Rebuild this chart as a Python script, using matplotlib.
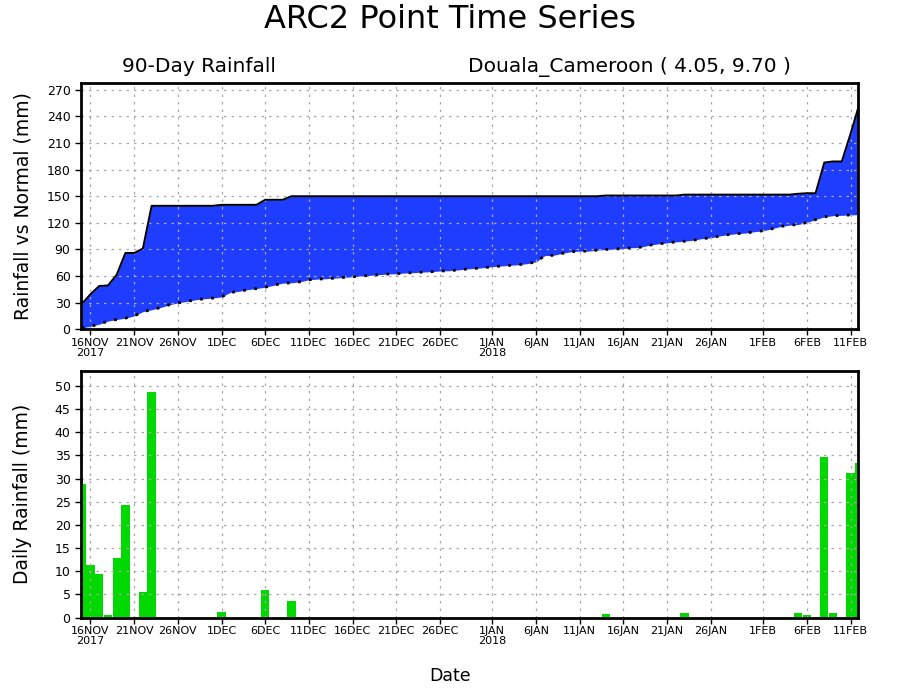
import matplotlib
matplotlib.use("Agg")
import matplotlib.pyplot as plt
import numpy as np
import pandas as pd

# 90 days, 15 Nov 2017 .. 12 Feb 2018
start_date = "2017-11-15"
n_days = 90

# daily rainfall (mm)
daily_rain = [28.8, 11.4, 9.4, 0.6, 12.9, 24.3, 0.0, 5.6, 48.6, 0.0,
              0.0, 0.0, 0.0, 0.0, 0.0, 0.0, 1.2, 0.0, 0.0, 0.0,
              0.0, 6.0, 0.0, 0.0, 3.6, 0.0, 0.0, 0.0, 0.0, 0.0,
              0.0, 0.0, 0.0, 0.0, 0.0, 0.0, 0.0, 0.0, 0.0, 0.0,
              0.0, 0.0, 0.0, 0.0, 0.0, 0.0, 0.0, 0.0, 0.0, 0.0,
              0.0, 0.0, 0.0, 0.0, 0.0, 0.0, 0.0, 0.0, 0.0, 0.0,
              0.8, 0.0, 0.0, 0.0, 0.0, 0.0, 0.0, 0.0, 0.0, 1.0,
              0.0, 0.0, 0.0, 0.0, 0.0, 0.0, 0.0, 0.0, 0.0, 0.0,
              0.0, 0.0, 1.0, 0.6, 0.0, 34.6, 1.0, 0.0, 31.2, 33.3]

# accumulated rainfall (mm), upper edge of the blue area
accum_rain = [28.5, 39.5, 48.8, 49.4, 61.5, 86.0, 86.0, 91.0, 139.2, 139.2,
              139.2, 139.2, 139.2, 139.2, 139.2, 139.2, 140.3, 140.3, 140.3, 140.3,
              140.3, 146.0, 146.0, 146.0, 150.0, 150.0, 150.0, 150.0, 150.0, 150.0,
              150.0, 150.0, 150.0, 150.0, 150.0, 150.0, 150.0, 150.0, 150.0, 150.0,
              150.0, 150.0, 150.0, 150.0, 150.0, 150.0, 150.0, 150.0, 150.0, 150.0,
              150.0, 150.0, 150.0, 150.0, 150.0, 150.0, 150.0, 150.0, 150.0, 150.0,
              150.8, 150.8, 150.8, 150.8, 150.8, 150.8, 150.8, 150.8, 150.8, 151.8,
              151.8, 151.8, 151.8, 151.8, 151.8, 151.8, 151.8, 151.8, 151.8, 151.8,
              151.8, 151.8, 152.8, 153.4, 153.4, 188.0, 189.2, 189.2, 220.3, 253.6]

# accumulated normal (mm), dotted lower edge
accum_normal = [1.5, 3.4, 5.7, 9.2, 11.0, 12.6, 15.0, 19.9, 22.0, 24.5,
                27.5, 29.8, 31.3, 33.2, 34.4, 35.2, 36.5, 41.5, 42.8, 44.7,
                45.9, 47.4, 49.7, 52.0, 52.4, 53.6, 55.8, 56.6, 57.0, 57.7,
                58.5, 59.2, 60.0, 60.8, 61.5, 62.3, 62.6, 63.4, 63.8, 64.5,
                64.9, 65.7, 66.0, 66.8, 67.9, 68.7, 69.4, 70.6, 71.3, 72.1,
                72.8, 74.0, 76.0, 83.0, 83.4, 85.6, 87.4, 88.1, 88.1, 89.3,
                90.0, 90.4, 91.1, 91.9, 92.6, 94.8, 96.3, 97.4, 98.5, 99.3,
                100.4, 102.2, 103.0, 105.2, 106.7, 107.8, 108.5, 110.0, 111.1, 113.3,
                115.9, 117.4, 118.1, 120.4, 123.7, 126.7, 128.1, 128.5, 128.9, 129.3]

tick_dates = ["2017-11-16", "2017-11-21", "2017-11-26", "2017-12-01", "2017-12-06",
              "2017-12-11", "2017-12-16", "2017-12-21", "2017-12-26", "2018-01-01",
              "2018-01-06", "2018-01-11", "2018-01-16", "2018-01-21", "2018-01-26",
              "2018-02-01", "2018-02-06", "2018-02-11"]
tick_labels = ["16NOV\n2017", "21NOV", "26NOV", "1DEC", "6DEC", "11DEC", "16DEC",
               "21DEC", "26DEC", "1JAN\n2018", "6JAN", "11JAN", "16JAN", "21JAN",
               "26JAN", "1FEB", "6FEB", "11FEB"]

title = "ARC2 Point Time Series"
subtitle_left = "90-Day Rainfall"
subtitle_right = "Douala_Cameroon ( 4.05, 9.70 )"

dates = pd.date_range(start_date, periods=n_days, freq="D")
ticks = pd.to_datetime(tick_dates)
x0 = dates[0] - pd.Timedelta(hours=2)
x1 = dates[-1] - pd.Timedelta(hours=3.5)

FILL_BLUE = "#1f3dff"
BAR_GREEN = "#00d900"
GRID = "#a8a8a8"

fig = plt.figure(figsize=(9, 7), dpi=100)
ax1 = fig.add_axes([0.09, 0.5296, 0.8633, 0.352])
ax2 = fig.add_axes([0.09, 0.1176, 0.8633, 0.3524])


def style_axis(ax, ymax, ystep):
    ax.set_xlim(x0, x1)
    ax.set_ylim(0, ymax)
    ax.set_yticks(np.arange(0, ymax, ystep))
    ax.set_xticks(ticks)
    ax.set_xticklabels(tick_labels, fontsize=8)
    ax.tick_params(axis="y", labelsize=9, length=4, width=1, direction="out")
    ax.tick_params(axis="x", length=4, width=1, direction="out", pad=2)
    for lab in ax.get_xticklabels():
        lab.set_linespacing(1.0)
    ax.grid(True, color=GRID, linestyle=(0, (2, 4)), linewidth=0.9)
    ax.set_axisbelow(False)
    for sp in ax.spines.values():
        sp.set_linewidth(2.0)
        sp.set_zorder(5)


# top: accumulated vs normal
ax1.fill_between(dates, accum_normal, accum_rain, color=FILL_BLUE, lw=0, zorder=2)
ax1.plot(dates, accum_rain, color="black", lw=1.4, zorder=3)
ax1.plot(dates, accum_normal, color="black", lw=2.0, linestyle=(0, (1, 3)), zorder=3)
style_axis(ax1, 277.8, 30)
ax1.set_ylabel("Rainfall vs Normal (mm)", fontsize=13.5)
ax1.yaxis.set_label_coords(-0.063, 0.5)

# bottom: daily rainfall
ax2.bar(dates, daily_rain, width=0.95, color=BAR_GREEN, lw=0, zorder=2)
style_axis(ax2, 53.2, 5)
ax2.set_ylabel("Daily Rainfall (mm)", fontsize=13.5)
ax2.yaxis.set_label_coords(-0.063, 0.5)

fig.text(0.5, 1 - 20 / 700, title, fontsize=23, ha="center", va="center")
fig.text(122 / 900, 1 - 67 / 700, subtitle_left, fontsize=14.5, ha="left", va="center")
fig.text(468 / 900, 1 - 67 / 700, subtitle_right, fontsize=14.5, ha="left", va="center")
fig.text(0.5, 1 - 676 / 700, "Date", fontsize=12.5, ha="center", va="center")

fig.savefig("out.png", dpi=100)
